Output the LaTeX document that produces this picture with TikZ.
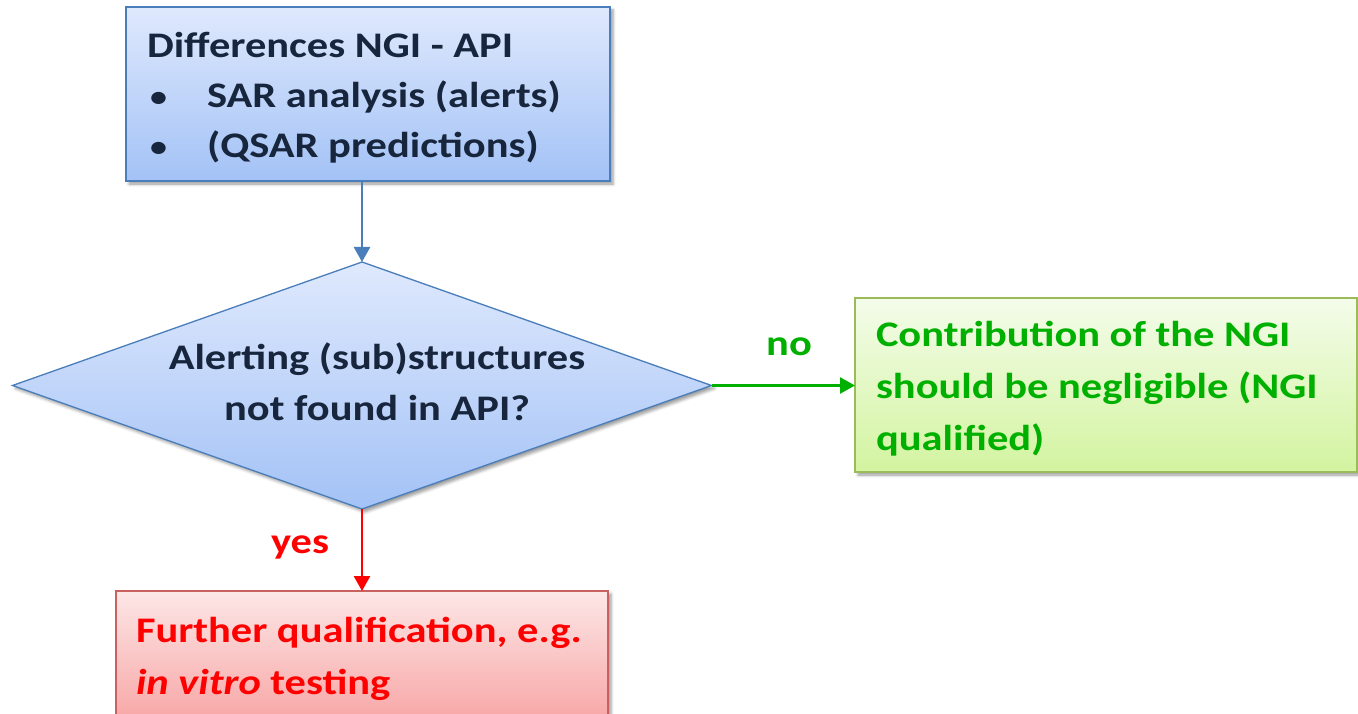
\documentclass[tikz,border=0pt]{standalone}
\usepackage{fontspec}
\usepackage{graphicx}
\setmainfont{Carlito}
\usetikzlibrary{shapes.geometric,arrows.meta,shadows.blur}

\definecolor{navytext}{HTML}{17253D}
\definecolor{blueline}{HTML}{4A7EBB}
\definecolor{bluetop}{HTML}{DFE9FD}
\definecolor{bluebot}{HTML}{A3C2F6}
\definecolor{greentext}{HTML}{00B000}
\definecolor{greenline}{HTML}{9BBB59}
\definecolor{greentop}{HTML}{F4FCEA}
\definecolor{greenbot}{HTML}{D3F4A0}
\definecolor{redtext}{HTML}{FF0000}
\definecolor{redline}{HTML}{C9615E}
\definecolor{redtop}{HTML}{FDE7E7}
\definecolor{redbot}{HTML}{F8A4A4}

% slide lettering is set slightly wide
\newcommand{\widetxt}[1]{\scalebox{1.18}[1]{#1}}
\newcommand{\smallbullet}{\raisebox{1.5pt}{\scalebox{0.8}{\textbullet}}}

\tikzset{
  softshadow/.style={blur shadow={shadow xshift=3pt, shadow yshift=-3pt,
      shadow blur radius=3pt, shadow opacity=40}},
  flowbox/.style={draw, line width=1.3pt, inner sep=0pt, outer sep=0pt, softshadow},
  bluebox/.style={flowbox, draw=blueline, top color=bluetop, bottom color=bluebot},
  greenbox/.style={flowbox, draw=greenline, top color=greentop, bottom color=greenbot},
  redbox/.style={flowbox, draw=redline, top color=redtop, bottom color=redbot},
  decision/.style={diamond, flowbox, draw=blueline, top color=bluetop, bottom color=bluebot},
  txt/.style={inner sep=0pt, outer sep=0pt},
  link/.style={line width=2.5pt, -{Triangle[length=15pt,width=16pt]}},
}

\begin{document}
\begin{tikzpicture}[x=1pt, y=-1pt, font=\bfseries\fontsize{36}{50}\selectfont]
  \useasboundingbox (0,0) rectangle (1358,714);

  % boxes
  \node[bluebox, minimum width=484pt, minimum height=174pt] (diff) at (368,94) {};
  \node[decision, minimum width=699pt, minimum height=247pt] (query) at (362,385.5) {};
  \node[greenbox, minimum width=502pt, minimum height=174pt] (neglig) at (1106,385) {};
  \node[redbox, minimum width=492pt, minimum height=134pt] (further) at (362,658) {};

  % texts of the top box
  \node[txt, anchor=base west, text=navytext] (diffhead) at (147,58) {\widetxt{Differences NGI - API}};
  \node[txt, anchor=base west, text=navytext] (bulA) at (150,108) {\widetxt{\smallbullet}};
  \node[txt, anchor=base west, text=navytext] (itemA) at (207,108) {\widetxt{SAR analysis (alerts)}};
  \node[txt, anchor=base west, text=navytext] (bulB) at (150,158) {\widetxt{\smallbullet}};
  \node[txt, anchor=base west, text=navytext] (itemB) at (207,158) {\widetxt{(QSAR predictions)}};

  % decision text
  \node[txt, anchor=base, text=navytext] (qA) at (377,369) {\widetxt{Alerting (sub)structures}};
  \node[txt, anchor=base, text=navytext] (qB) at (377,420) {\widetxt{not found in API?}};

  % outcome texts
  \node[txt, anchor=base west, text=greentext] (nA) at (876,346) {\widetxt{Contribution of the NGI}};
  \node[txt, anchor=base west, text=greentext] (nB) at (876,398) {\widetxt{should be negligible (NGI}};
  \node[txt, anchor=base west, text=greentext] (nC) at (876,450) {\widetxt{qualified)}};

  \node[txt, anchor=base west, text=redtext] (fA) at (136,642) {\widetxt{Further qualification, e.g.}};
  \node[txt, anchor=base west, text=redtext] (fB) at (136,694) {\widetxt{\textit{in vitro} testing}};

  % connectors
  \draw[link, blueline] (diff.south -| query.north) -- (query.north);
  \draw[link, greentext] (query.east) -- (query.east -| neglig.west);
  \draw[link, redtext] (query.south) -- (query.south |- further.north);

  % branch labels
  \node[txt, anchor=base, text=greentext] (nolabel) at (789,355) {\widetxt{no}};
  \node[txt, anchor=base, text=redtext] (yeslabel) at (300,553) {\widetxt{yes}};
\end{tikzpicture}
\end{document}
